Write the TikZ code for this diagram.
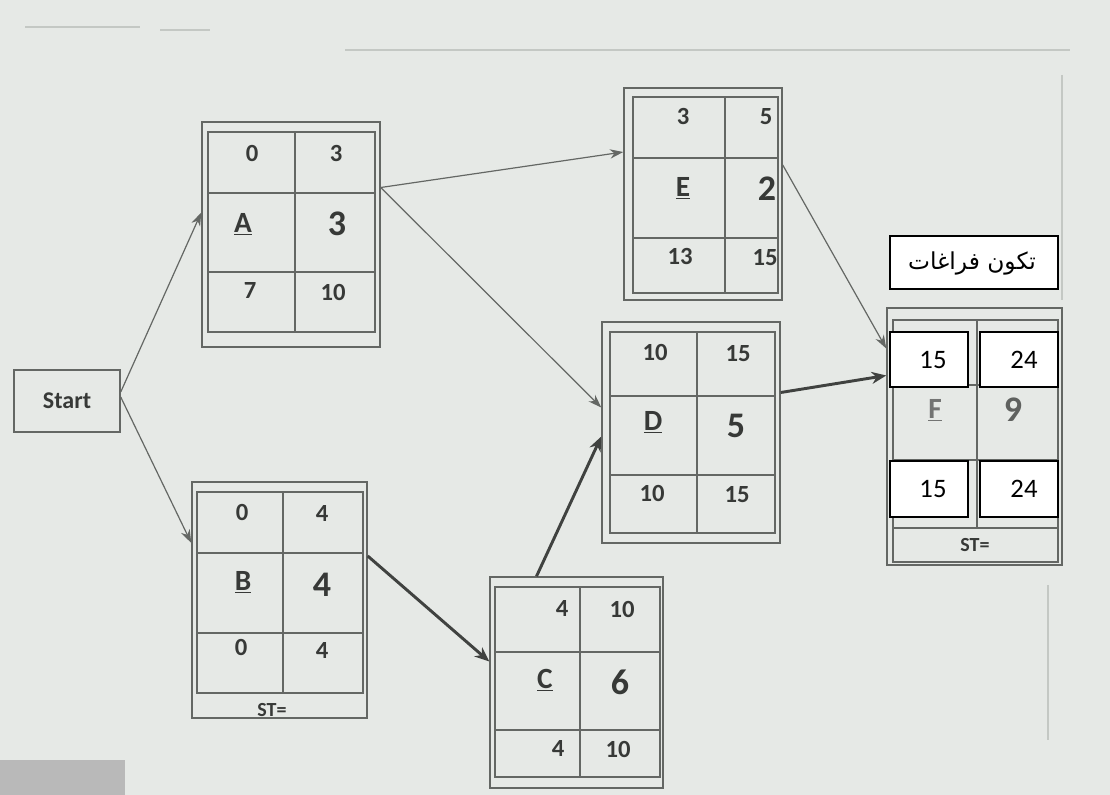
\documentclass[tikz,border=0pt]{standalone}
\usepackage{fontspec}
\setmainfont{Carlito}
\newfontfamily\arabicfont[Script=Arabic]{DejaVu Sans}
\TeXXeTstate=1
\usetikzlibrary{arrows.meta,fit}
\definecolor{bgc}{RGB}{230,233,230}
\definecolor{linec}{RGB}{100,103,100}
\definecolor{txtc}{RGB}{55,57,55}
\definecolor{faint}{RGB}{196,200,196}
\newcommand\actgrid[7]{\draw[gridl] (#1,#2) rectangle (#3,#4) (#5,#2) -- (#5,#4) (#1,#6) -- (#3,#6) (#1,#7) -- (#3,#7);}
\tikzset{
  outerbox/.style={draw=linec, line width=1.1pt, inner sep=0pt},
  gridl/.style={draw=linec, line width=0.9pt},
  num/.style={text=txtc, font=\fontsize{18.5}{20}\selectfont\bfseries, inner sep=0pt},
  big/.style={text=txtc, font=\fontsize{27}{29}\selectfont\bfseries, inner sep=0pt},
  let/.style={text=txtc, font=\fontsize{22}{24}\selectfont\bfseries, inner sep=0pt},
  st/.style={text=txtc, font=\fontsize{15}{17}\selectfont\bfseries, inner sep=0pt},
  conn/.style={draw=linec, line width=0.9pt, -{Stealth[length=10pt,width=7pt]}},
  thick conn/.style={draw=txtc!80!linec, line width=2.2pt, -{Stealth[length=11pt,width=9pt]}},
  wbox/.style={draw=black, line width=0.9pt, fill=white, inner sep=0pt},
  wnum/.style={text=black, font=\fontsize{20}{22}\selectfont, inner sep=0pt},
}
\begin{document}
\begin{tikzpicture}[x=0.75pt,y=-0.75pt]
\fill[bgc] (0,0) rectangle (1110,795);
\useasboundingbox (0,0) rectangle (1110,795);
% faint page artefacts
\draw[faint, line width=0.8pt] (345,50) -- (1070,50);
\draw[faint, line width=0.8pt] (25,27) -- (140,27) (160,30) -- (210,30);
\draw[faint, line width=0.8pt] (1062,75) -- (1062,300);
\draw[faint, line width=0.8pt] (1048,585) -- (1048,740);
\fill[gray!55] (0,760) rectangle (125,795);

% Start
\node[outerbox, fit={(14,370) (120,432)}] (start) {};
\node[text=txtc, font=\fontsize{18}{20}\selectfont\bfseries, inner sep=0pt] (starttxt) at (67,401) {Start};

% A
\node[outerbox, fit={(202,122) (380,347)}] (A) {};
\actgrid{208}{132}{375}{332}{295}{193}{272}
\node[num] (a1) at (252,153) {0};
\node[num] (a2) at (336,153) {3};
\node[let] (a3) at (243,224) {\underline{A}};
\node[big] (a4) at (337,224) {3};
\node[num] (a5) at (250,291) {7};
\node[num] (a6) at (333,292) {10};

% B
\node[outerbox, fit={(192,482) (367,718)}] (B) {};
\actgrid{197}{492}{363}{693}{283}{553}{633}
\node[num] (b1) at (242,512) {0};
\node[num] (b2) at (322,513) {4};
\node[let] (b3) at (243,582) {\underline{B}};
\node[big] (b4) at (322,585) {4};
\node[num] (b5) at (241,647) {0};
\node[num] (b6) at (322,650) {4};
\node[st] (bst) at (272,710) {ST=};

% C
\node[outerbox, fit={(490,577) (663,788)}] (C) {};
\actgrid{495}{587}{660}{777}{580}{652}{730}
\node[num] (c1) at (562,608) {4};
\node[num] (c2) at (622,609) {10};
\node[let] (c3) at (545,680) {\underline{C}};
\node[big] (c4) at (620,682) {6};
\node[num] (c5) at (558,748) {4};
\node[num] (c6) at (618,749) {10};

% E
\node[outerbox, fit={(624,88) (782,300)}] (E) {};
\actgrid{633}{97}{778}{293}{725}{158}{238}
\node[num] (e1) at (683,116) {3};
\node[num] (e2) at (766,117) {5};
\node[let] (e3) at (683,188) {\underline{E}};
\node[big] (e4) at (767,189) {2};
\node[num] (e5) at (680,256) {13};
\node[num] (e6) at (765,258) {15};

% D
\node[outerbox, fit={(602,322) (780,543)}] (D) {};
\actgrid{610}{332}{775}{533}{697}{396}{475}
\node[num] (d1) at (655,352) {10};
\node[num] (d2) at (738,354) {15};
\node[let] (d3) at (653,422) {\underline{D}};
\node[big] (d4) at (736,426) {5};
\node[num] (d5) at (652,493) {10};
\node[num] (d6) at (737,495) {15};

% F
\node[outerbox, fit={(887,308) (1062,565)}] (F) {};
\actgrid{893}{320}{1058}{528}{977}{385}{460}
\draw[gridl] (893,528) -- (893,562) -- (1058,562) -- (1058,528);
\node[st] (fst) at (975,545) {ST=};
\node[let, text=txtc!70] (f3) at (935,410) {\underline{F}};
\node[big, text=txtc!80] (f4) at (1013,410) {9};

\node[wbox, fit={(890,332) (968,387)}] (w1) {};
\node[wbox, fit={(980,332) (1058,387)}] (w2) {};
\node[wbox, fit={(890,461) (968,517)}] (w3) {};
\node[wbox, fit={(980,461) (1058,517)}] (w4) {};
\node[wnum] (w1t) at (933,360) {15};
\node[wnum] (w2t) at (1024,360) {24};
\node[wnum] (w3t) at (933,489) {15};
\node[wnum] (w4t) at (1024,489) {24};

\node[wbox, fit={(890,236) (1058,289)}] (lab) {};
\node[inner sep=0pt, font=\fontsize{17.5}{19}\selectfont] (labt) at (972,263) {\arabicfont\beginR تكون فراغات\endR};

% connectors
\draw[conn] ([shift={(0,-9)}]start.east) -- ([shift={(0,-22)}]A.west);
\draw[conn] ([shift={(0,-4)}]start.east) -- ([shift={(0,-57)}]B.west);
\draw[conn] ([shift={(0,-47)}]A.east) -- ([shift={(0,-42)}]E.west);
\draw[conn] ([shift={(0,-47)}]A.east) -- ([shift={(0,-25)}]D.west);
\draw[thick conn] ([shift={(0,-44)}]B.east) -- ([shift={(0,-21)}]C.west);
\draw[thick conn] ([shift={(-40,0)}]C.north) -- ([shift={(0,4)}]D.west);
\draw[conn] ([shift={(0,-29)}]E.east) -- ([shift={(0,-88)}]F.west);
\draw[thick conn] ([shift={(0,-40)}]D.east) -- ([shift={(0,-61)}]F.west);
\end{tikzpicture}
\end{document}
